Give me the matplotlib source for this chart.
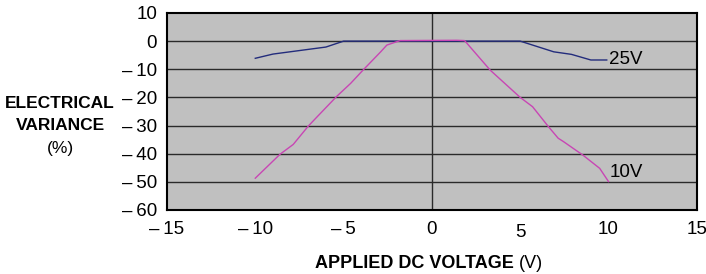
import numpy as np
import matplotlib
matplotlib.use("Agg")
import matplotlib.pyplot as plt
from matplotlib.transforms import ScaledTranslation

plt.rcParams['font.family'] = ['Liberation Sans', 'DejaVu Sans']

# data
v25_x = [-10, -9, -6, -5, 5, 6.9, 7.9, 9.0, 9.9]
v25_y = [-6.1, -4.6, -2.1, 0, 0, -3.8, -4.7, -6.7, -6.7]

v10_x = [-10, -8.6, -7.85, -7.0, -6.5, -5.4, -4.6, -3.9, -2.9, -2.55, -1.8,
         1.4, 1.85, 3.3, 5.0, 5.7, 6.6, 7.15, 7.45, 8.55, 9.5, 10.0]
v10_y = [-48.7, -40.2, -36.7, -30.2, -26.9, -19.7, -15.0, -10.3, -3.8, -1.4, 0.2,
         0.3, 0.2, -10.3, -20.0, -23.3, -30.4, -34.5, -35.7, -40.5, -45.2, -49.9]

xticks = [-15, -10, -5, 0, 5, 10, 15]
yticks = [10, 0, -10, -20, -30, -40, -50, -60]


def lab(v):
    return '\u2013\u2009%d' % -v if v < 0 else '%d' % v


fig = plt.figure(figsize=(7.06, 2.74), dpi=100)
ax = fig.add_axes([0.2365, 0.2336, 0.7505, 0.719])
ax.set_facecolor('#c0c0c0')

for y in yticks[1:-1]:
    ax.axhline(y, color='#2a2a2a', lw=1.0, zorder=1)
ax.axvline(0, color='#2a2a2a', lw=1.0, zorder=1)

ax.plot(v25_x, v25_y, color='#232c7c', lw=1.0, zorder=3)
ax.plot(v10_x, v10_y, color='#c846b4', lw=1.0, zorder=3)

ax.text(10.05, -6.7, '25V', fontsize=13.5, va='center', ha='left')
ax.text(10.05, -46.6, '10V', fontsize=13.5, va='center', ha='left')

ax.set_xlim(-15, 15)
ax.set_ylim(-60, 10)
ax.set_xticks(xticks)
ax.set_xticklabels([lab(v) for v in xticks])
ax.set_yticks(yticks)
ax.set_yticklabels([lab(v) for v in yticks])
ax.tick_params(length=0, labelsize=13.5)
ax.tick_params(axis='y', pad=7)
ax.tick_params(axis='x', pad=8)
for s in ax.spines.values():
    s.set_linewidth(1.5)
    s.set_color('black')

# the "5" label sits a little lower in the original
for t in ax.get_xticklabels():
    if t.get_text() == '5':
        t.set_transform(t.get_transform() + ScaledTranslation(0, -0.03, fig.dpi_scale_trans))

fig.text(0.085, 1 - 103 / 274, 'ELECTRICAL', fontsize=12.5, fontweight='bold',
         ha='center', va='center')
fig.text(0.085, 1 - 126 / 274, 'VARIANCE', fontsize=12.5, fontweight='bold',
         ha='center', va='center')
fig.text(0.085, 1 - 148 / 274, '(%)', fontsize=12.5, ha='center', va='center')

xl = fig.text(315 / 706, 1 - 263 / 274, 'APPLIED DC VOLTAGE ', fontsize=13,
              fontweight='bold', ha='left', va='center')
ax.annotate('(V)', xy=(1, 0.5), xycoords=xl, fontsize=13, ha='left', va='center')

fig.savefig('out.png', dpi=100)
